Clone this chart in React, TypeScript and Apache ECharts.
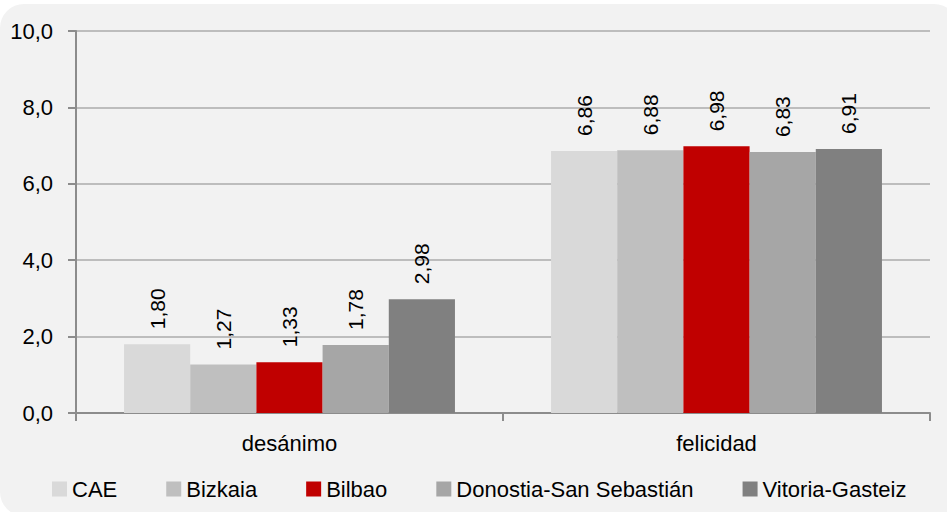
import React, { useEffect, useRef } from "react";
import * as echarts from "echarts";

const categories = ["desánimo", "felicidad"];
const seriesNames = ["CAE", "Bizkaia", "Bilbao", "Donostia-San Sebastián", "Vitoria-Gasteiz"];
const cae = [1.8, 6.86];
const bizkaia = [1.27, 6.88];
const bilbao = [1.33, 6.98];
const donostia = [1.78, 6.83];
const vitoria = [2.98, 6.91];
const seriesValues = [cae, bizkaia, bilbao, donostia, vitoria];
const colors = ["#d9d9d9", "#bfbfbf", "#c00000", "#a6a6a6", "#808080"];
const yMin = 0;
const yMax = 10;
const yInterval = 2;

const FONT = "'Liberation Sans', Arial, sans-serif";

export default function App() {
  const ref = useRef<HTMLDivElement>(null);
  useEffect(() => {
    if (!ref.current) return;
    const chart = echarts.init(ref.current, null, { renderer: "svg" });
    chart.setOption({
      animation: false,
      textStyle: { fontFamily: FONT },
      grid: { left: 76, right: 17, top: 31, bottom: 99 },
      legend: {
        bottom: 7,
        left: 47,
        itemWidth: 15,
        itemHeight: 15,
        itemGap: 49,
        icon: "rect",
        textStyle: { fontSize: 22, color: "#000", fontFamily: FONT },
        data: seriesNames,
      },
      xAxis: {
        type: "category",
        data: categories,
        axisLine: { lineStyle: { color: "#8c8c8c", width: 2 } },
        axisTick: { show: true, length: 8, lineStyle: { color: "#8c8c8c", width: 2 } },
        axisLabel: { fontSize: 22, color: "#000", margin: 19, fontFamily: FONT },
      },
      yAxis: {
        type: "value",
        min: yMin,
        max: yMax,
        interval: yInterval,
        axisLine: { show: true, lineStyle: { color: "#8c8c8c", width: 2 } },
        axisTick: { show: true, length: 8, lineStyle: { color: "#8c8c8c", width: 2 } },
        splitLine: { lineStyle: { color: "#bdbdbd", width: 2 } },
        axisLabel: {
          fontSize: 22,
          color: "#000",
          margin: 23,
          fontFamily: FONT,
          formatter: (v: number) => v.toFixed(1).replace(".", ","),
        },
      },
      series: seriesNames.map((name, i) => ({
        name,
        type: "bar",
        data: seriesValues[i],
        barGap: "0%",
        barCategoryGap: "22.5%",
        itemStyle: { color: colors[i] },
        label: {
          show: true,
          position: "top",
          rotate: 90,
          align: "left",
          verticalAlign: "middle",
          distance: 15,
          fontSize: 21,
          color: "#000",
          fontFamily: FONT,
          formatter: (p: any) => Number(p.value).toFixed(2).replace(".", ","),
        },
      })),
    });
    return () => chart.dispose();
  }, []);
  return (
    <div
      style={{
        position: "fixed",
        left: 0,
        top: 0,
        width: 947,
        height: 512,
        background: "#ffffff",
        overflow: "hidden",
      }}
    >
      <div
        style={{
          position: "absolute",
          left: 0,
          top: 4,
          width: 958,
          height: 512,
          background: "#f2f2f2",
          borderRadius: 24,
        }}
      />
      <div ref={ref} style={{ position: "absolute", left: 0, top: 0, width: 947, height: 512 }} />
    </div>
  );
}
